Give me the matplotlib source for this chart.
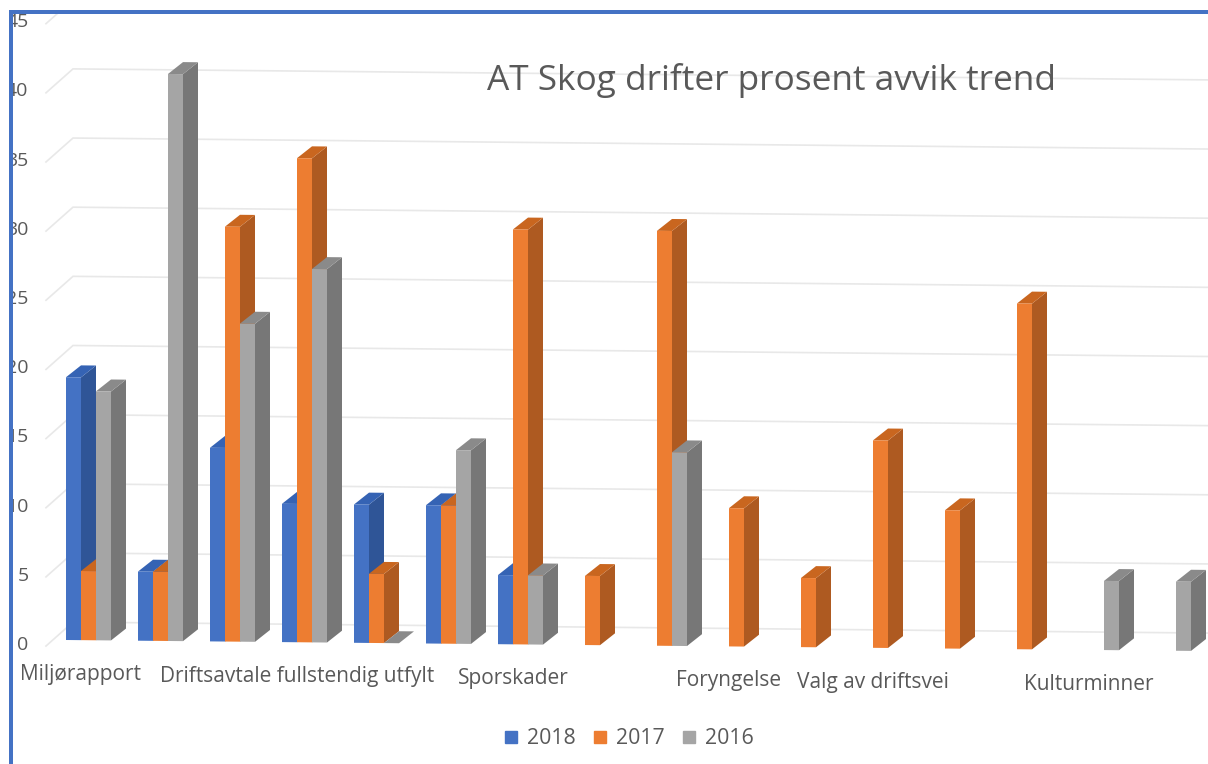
import matplotlib
matplotlib.use("Agg")
import matplotlib.pyplot as plt
from matplotlib.lines import Line2D
from matplotlib.patches import Polygon, Rectangle
from matplotlib.transforms import Affine2D

plt.rcParams['font.family'] = ['Open Sans', 'DejaVu Sans']

# one slot per bar group, most groups have no label in the original
labels = ["Miljørapport", "", "", "Driftsavtale fullstendig utfylt", "", "",
          "Sporskader", "", "", "Foryngelse", "", "Valg av driftsvei", "", "",
          "Kulturminner", ""]
years = ["2018", "2017", "2016"]
# None = no bar at all, 0 = flat bar
v2018 = [19, 5, 14, 10, 10, 10, 5, None, None, None, None, None, None, None, None, None]
v2017 = [5, 5, 30, 35, 5, 10, 30, 5, 30, 10, 5, 15, 10, 25, None, None]
v2016 = [18, 41, 23, 27, 0, 14, 5, None, 14, None, None, None, None, None, 5, 5]
yticks = [0, 5, 10, 15, 20, 25, 30, 35, 40, 45]

front = ["#4472C4", "#ED7D31", "#A5A5A5"]
side = ["#2F5597", "#AE5A21", "#777777"]
top = ["#3563B4", "#C9661F", "#8A8A8A"]
TXT = "#595959"

fig = plt.figure(figsize=(12.08, 7.64), dpi=100)
ax = fig.add_axes([0, 0, 1, 1])
ax.set_xlim(0, 1208)
ax.set_ylim(764, 0)
ax.axis("off")

# group position / value -> pixels, the whole chart is tilted a bit
slant = Affine2D.from_values(72, 0.698, 0, -13.83, 66, 640) + ax.transData

w = 15 / 72.0      # bar width
du = 15 / 72.0     # 3d depth
dv = 12 / 13.83

# back wall lines, with the short piece on the floor at the left
for t in yticks:
    ax.plot([-0.278, 0.097, 15.86], [t - 0.45, t + 1.3, t + 1.3], color="#E8E8E8",
            lw=1.2, transform=slant, zorder=1, solid_joinstyle="miter")


def bar(x, v, k):
    ax.add_patch(Polygon([(x + w, 0), (x + w + du, dv), (x + w + du, v + dv), (x + w, v)],
                         fc=side[k], ec="none", transform=slant, zorder=2))
    ax.add_patch(Polygon([(x, v), (x + w, v), (x + w + du, v + dv), (x + du, v + dv)],
                         fc=top[k], ec="none", transform=slant, zorder=2))
    ax.add_patch(Polygon([(x, 0), (x + w, 0), (x + w, v), (x, v)],
                         fc=front[k], ec="none", transform=slant, zorder=2))


for i in range(len(labels)):
    for k, series in enumerate([v2018, v2017, v2016]):
        if series[i] is not None:
            bar(i + k * w, series[i], k)
    if labels[i]:
        xy = slant.transform((i + w, 0))
        xy = ax.transData.inverted().transform(xy)
        ax.text(xy[0], xy[1] + 34.5, labels[i], ha="center", va="center",
                fontsize=15, color=TXT, zorder=3)

for t in yticks:
    ax.text(28.5, 645 - t * 13.84, str(t), ha="right", va="center", fontsize=14,
            color=TXT, zorder=3)

ax.text(771.5, 80.5, "AT Skog drifter prosent avvik trend", ha="center", va="center",
        fontsize=25.4, color=TXT, zorder=3)

handles = [Line2D([], [], ls="none", marker="s", ms=8.5, color=c) for c in front]
ax.legend(handles, years, ncol=3, loc="center", bbox_to_anchor=(627, 739),
          bbox_transform=ax.transData, frameon=False, fontsize=15.3,
          labelcolor=TXT, handlelength=1, handletextpad=0.25, columnspacing=0.66)

# screenshot edge: white margin and blue frame cut off the axis numbers
ax.add_patch(Rectangle((0, 0), 9, 764, fc="white", ec="none", zorder=5))
ax.add_patch(Rectangle((0, 0), 1208, 10, fc="white", ec="none", zorder=5))
ax.add_patch(Rectangle((9, 10), 1199, 4, fc="#4472C4", ec="none", zorder=6))
ax.add_patch(Rectangle((9, 10), 4, 754, fc="#4472C4", ec="none", zorder=6))

plt.savefig("out.png", dpi=100)
